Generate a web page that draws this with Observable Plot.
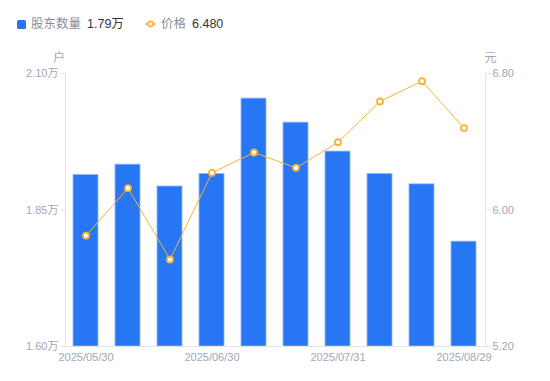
<!DOCTYPE html>
<html>
<head>
<meta charset="utf-8">
<script src="https://cdn.jsdelivr.net/npm/d3@7"></script>
<script src="https://cdn.jsdelivr.net/npm/@observablehq/plot@0.6"></script>
<style>
  html, body { margin: 0; padding: 0; background: #fff; }
  body { width: 550px; height: 381px; position: relative; overflow: hidden;
         font-family: "Liberation Sans", "Noto Sans CJK SC", sans-serif; }
  #legend { position: absolute; left: 0; top: 0; width: 550px; height: 40px; font-size: 12.5px; }
  .item { position: absolute; top: 16px; height: 17px; line-height: 17px; white-space: nowrap; }
  .sw { position: absolute; }
  .name { color: #8a8e99; }
  .val { color: #333; margin-left: 6px; }
  #chart { position: absolute; left: 0; top: 0; }
</style>
</head>
<body>
<div id="chart"></div>
<div id="legend"></div>
<script>
const dates = ["2025/05/30","2025/06/10","2025/06/20","2025/06/30","2025/07/10","2025/07/20","2025/07/31","2025/08/10","2025/08/20","2025/08/29"];
const holders = [1.914, 1.933, 1.893, 1.916, 2.054, 2.010, 1.957, 1.916, 1.897, 1.792]; // 万户
const prices = [5.85, 6.128, 5.71, 6.218, 6.337, 6.247, 6.397, 6.636, 6.755, 6.480]; // 元
const xTickLabels = ["2025/05/30","2025/06/30","2025/07/31","2025/08/29"];
const leftTicks = [1.60, 1.85, 2.10];
const rightTicks = [5.20, 6.00, 6.80];
const leftDomain = [1.60, 2.10];
const rightDomain = [5.20, 6.80];
const seriesNames = ["股东数量", "价格"];
const unitLeft = "户", unitRight = "元";

const BLUE = "#2777f5", ORANGE = "#f8b23a", TICK = "#a3a6b2", AXIS = "#e3e3e6";

const toLeft = p => leftDomain[0] + (p - rightDomain[0]) / (rightDomain[1] - rightDomain[0]) * (leftDomain[1] - leftDomain[0]);
const fromLeft = v => rightDomain[0] + (v - leftDomain[0]) / (leftDomain[1] - leftDomain[0]) * (rightDomain[1] - rightDomain[0]);

const data = dates.map((d, i) => ({date: d, holders: holders[i], price: prices[i], py: toLeft(prices[i])}));

const plot = Plot.plot({
  width: 550,
  height: 381,
  marginLeft: 65,
  marginRight: 65,
  marginTop: 73,
  marginBottom: 35,
  style: {fontFamily: '"Liberation Sans", "Noto Sans CJK SC", sans-serif', fontSize: "11px", background: "transparent"},
  x: {type: "band", domain: dates, paddingInner: 0.4, paddingOuter: 0.2},
  y: {domain: leftDomain},
  marks: [
    Plot.barY(data, {x: "date", y1: leftDomain[0], y2: "holders", fill: BLUE, stroke: "#8db8fb", strokeWidth: 0.8}),
    Plot.frame({anchor: "left", stroke: AXIS}),
    Plot.frame({anchor: "right", stroke: AXIS}),
    Plot.frame({anchor: "bottom", stroke: AXIS}),
    Plot.axisY({anchor: "left", ticks: leftTicks, tickFormat: v => v.toFixed(2) + "万", tickSize: 5, tickPadding: 2, stroke: AXIS, color: TICK, label: null}),
    Plot.axisY({anchor: "right", ticks: rightTicks.map(toLeft), tickFormat: v => fromLeft(v).toFixed(2), tickSize: 5, tickPadding: 2, stroke: AXIS, color: TICK, label: null}),
    Plot.axisX({ticks: xTickLabels, tickSize: 0, tickPadding: 7, color: TICK, label: null}),
    Plot.line(data, {x: "date", y: "py", stroke: ORANGE, strokeWidth: 1}),
    Plot.dot(data, {x: "date", y: "py", r: 3, fill: "white", stroke: ORANGE, strokeWidth: 1.8}),
    Plot.text([unitLeft], {frameAnchor: "top-left", text: d => d, dx: -6.5, dy: -20, fill: TICK, fontSize: 12, textAnchor: "middle"}),
    Plot.text([unitRight], {frameAnchor: "top-right", text: d => d, dx: 5, dy: -20, fill: TICK, fontSize: 12, textAnchor: "middle"})
  ]
});
document.getElementById("chart").appendChild(plot);

const lg = document.getElementById("legend");
lg.innerHTML = `
  <div class="item" style="left:16px"><span class="sw" style="left:1px;top:4px;width:9px;height:9px;background:${BLUE};border-radius:1.5px"></span><span style="margin-left:15px" class="name">${seriesNames[0]}</span><span class="val">${holders[holders.length-1].toFixed(2)}万</span></div>
  <div class="item" style="left:145px"><svg class="sw" style="left:0;top:3px" width="11" height="10"><line x1="0" y1="5" x2="11" y2="5" stroke="${ORANGE}" stroke-width="1.5"/><circle cx="5.5" cy="5" r="2.6" fill="white" stroke="${ORANGE}" stroke-width="1.6"/></svg><span style="margin-left:16px" class="name">${seriesNames[1]}</span><span class="val">${prices[prices.length-1].toFixed(3)}</span></div>
`;
</script>
</body>
</html>
